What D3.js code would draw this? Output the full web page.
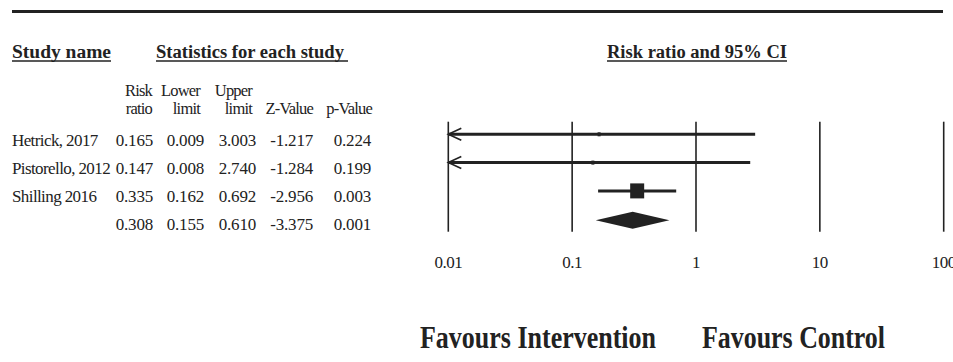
<!DOCTYPE html>
<html>
<head>
<meta charset="utf-8">
<script src="https://cdn.jsdelivr.net/npm/d3@7"></script>
<style>
  body { margin: 0; background: #fff; }
  svg { display: block; font-family: "Liberation Serif", "Times New Roman", serif; }
</style>
</head>
<body>
<div id="adiv"></div>
<script>
// study rows
var studies   = ["Hetrick, 2017", "Pistorello, 2012", "Shilling 2016", ""];
var riskRatio = [0.165, 0.147, 0.335, 0.308];
var lowerLim  = [0.009, 0.008, 0.162, 0.155];
var upperLim  = [3.003, 2.740, 0.692, 0.610];
var zValue    = [-1.217, -1.284, -2.956, -3.375];
var pValue    = [0.224, 0.199, 0.003, 0.001];
var boxSize   = [3, 3, 14, 0];   // marker size, last row is the pooled diamond
var ticks     = [0.01, 0.1, 1, 10, 100];
var tickText  = ["0.01", "0.1", "1", "10", "100"];

var width = 953, height = 362;

var svg = d3.select("#adiv")
  .append("svg")
    .attr("width", width)
    .attr("height", height);

// top rule
svg.append("line")
  .attr("x1", 12).attr("x2", 943)
  .attr("y1", 11.5).attr("y2", 11.5)
  .attr("stroke", "#222").attr("stroke-width", 3);

// titles with underline
function title(txt, x, y, w, uw) {
  svg.append("text")
    .attr("x", x).attr("y", y)
    .attr("font-size", 18).attr("font-weight", "bold")
    .attr("fill", "#222")
    .attr("textLength", w).attr("lengthAdjust", "spacingAndGlyphs")
    .text(txt);
  svg.append("line")
    .attr("x1", x).attr("x2", x + (uw || w))
    .attr("y1", y + 3).attr("y2", y + 3)
    .attr("stroke", "#222").attr("stroke-width", 1.3);
}
title("Study name", 12, 58, 99);
title("Statistics for each study", 156, 58, 188, 192);
title("Risk ratio and 95% CI", 607, 58, 180);

// column headers
var colRight = [153, 204, 256, 313, 371];
var head1 = ["Risk", "Lower", "Upper", "", ""];
var head2 = ["ratio", "limit", "limit", "Z-Value", "p-Value"];
var headRight = [152, 200, 252, 313, 372];

var hg = svg.append("g").attr("font-size", 16.5).attr("fill", "#222").attr("text-anchor", "end");
hg.selectAll(".h1").data(head1).enter().append("text")
  .attr("x", function(d, i) { return headRight[i]; })
  .attr("y", 96)
  .attr("letter-spacing", -0.8)
  .text(function(d) { return d; });
hg.selectAll(".h2").data(head2).enter().append("text")
  .attr("x", function(d, i) { return headRight[i]; })
  .attr("y", 114)
  .attr("letter-spacing", -0.8)
  .text(function(d) { return d; });

// rows
var rowY = d3.scalePoint().domain(d3.range(studies.length)).range([0, 3 * 28.3]);
var textTop = 145.5, plotTop = 134.3;

var tg = svg.append("g").attr("font-size", 17).attr("fill", "#222");
tg.selectAll(".name").data(studies).enter().append("text")
  .attr("x", 12)
  .attr("y", function(d, i) { return textTop + rowY(i); })
  .attr("letter-spacing", -0.6)
  .text(function(d) { return d; });

var cols = [riskRatio, lowerLim, upperLim, zValue, pValue];
cols.forEach(function(arr, c) {
  tg.selectAll(".c" + c).data(arr).enter().append("text")
    .attr("x", colRight[c])
    .attr("y", function(d, i) { return textTop + rowY(i); })
    .attr("text-anchor", "end")
    .attr("letter-spacing", -0.2)
    .text(function(d) { return d.toFixed(3); });
});

// forest plot
var x = d3.scaleLog().domain([0.01, 100]).range([448.3, 943.7]);

svg.append("g").selectAll("line").data(ticks).enter().append("line")
  .attr("x1", function(d) { return x(d); })
  .attr("x2", function(d) { return x(d); })
  .attr("y1", 121.7).attr("y2", 231.7)
  .attr("stroke", "#222").attr("stroke-width", 1.6);

svg.append("g").attr("font-size", 17).attr("fill", "#222").attr("text-anchor", "middle")
  .selectAll("text").data(ticks).enter().append("text")
  .attr("x", function(d) { return x(d); })
  .attr("y", 267.5)
  .attr("letter-spacing", -0.5)
  .text(function(d, i) { return tickText[i]; });

var pg = svg.append("g");
for (var i = 0; i < studies.length - 1; i++) {
  var cy = plotTop + rowY(i);
  var lo = Math.max(lowerLim[i], 0.01);
  pg.append("line")
    .attr("x1", x(lo)).attr("x2", x(upperLim[i]))
    .attr("y1", cy).attr("y2", cy)
    .attr("stroke", "#222").attr("stroke-width", 3);
  if (lowerLim[i] < 0.01) {
    pg.append("path")
      .attr("d", "M" + (x(0.01) + 13) + "," + (cy - 6) + "L" + x(0.01) + "," + cy + "L" + (x(0.01) + 13) + "," + (cy + 6))
      .attr("fill", "none").attr("stroke", "#222").attr("stroke-width", 1.6);
  }
  pg.append("rect")
    .attr("x", x(riskRatio[i]) - boxSize[i] / 2)
    .attr("y", cy - boxSize[i] / 2 - 0.5)
    .attr("width", boxSize[i])
    .attr("height", boxSize[i] + 1)
    .attr("fill", "#222");
}

// pooled diamond
var last = studies.length - 1;
var dy = plotTop + rowY(last) + 1;
pg.append("path")
  .attr("d", "M" + x(lowerLim[last]) + "," + dy +
             "L" + x(riskRatio[last]) + "," + (dy - 8.5) +
             "L" + x(upperLim[last]) + "," + dy +
             "L" + x(riskRatio[last]) + "," + (dy + 8.5) + "Z")
  .attr("fill", "#222");

// favours labels
svg.append("text")
  .attr("x", 420).attr("y", 347.5)
  .attr("font-size", 32).attr("font-weight", "bold").attr("fill", "#222")
  .attr("textLength", 236).attr("lengthAdjust", "spacingAndGlyphs")
  .text("Favours Intervention");
svg.append("text")
  .attr("x", 702).attr("y", 347.5)
  .attr("font-size", 32).attr("font-weight", "bold").attr("fill", "#222")
  .attr("textLength", 183).attr("lengthAdjust", "spacingAndGlyphs")
  .text("Favours Control");
</script>
</body>
</html>
